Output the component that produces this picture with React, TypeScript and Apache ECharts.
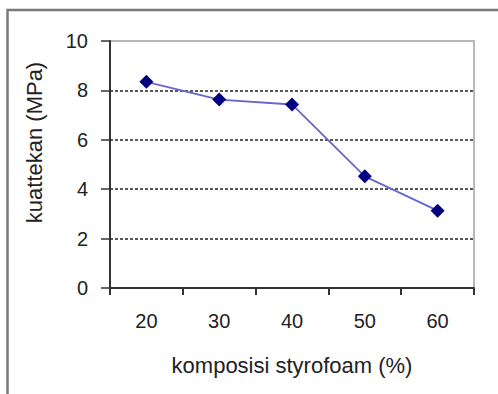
import React, { useEffect, useRef } from "react";
import * as echarts from "echarts";

const categories = ["20", "30", "40", "50", "60"];
const values = [8.35, 7.63, 7.43, 4.52, 3.13];
const yMin = 0;
const yMax = 10;
const yInterval = 2;
const gridValues = [2, 4, 6, 8];
const xTitle = "komposisi styrofoam (%)";
const yTitle = "kuattekan (MPa)";

export default function App() {
  const ref = useRef<HTMLDivElement>(null);
  useEffect(() => {
    if (!ref.current) return;
    const chart = echarts.init(ref.current, undefined, { renderer: "svg" });
    const font = "'Liberation Sans', Arial, sans-serif";
    chart.setOption({
      animation: false,
      backgroundColor: "#ffffff",
      textStyle: { fontFamily: font },
      graphic: [
        {
          type: "rect",
          shape: { x: 7.5, y: 10, width: 520, height: 420 },
          style: { fill: "none", stroke: "#7a7a7a", lineWidth: 2.5 },
          silent: true,
          z: -1,
        },
      ],
      grid: {
        left: 110,
        top: 41,
        right: 24,
        bottom: 106,
        show: true,
        borderColor: "#b8b8b8",
        borderWidth: 2,
        backgroundColor: "#ffffff",
      },
      xAxis: {
        type: "category",
        data: categories,
        boundaryGap: true,
        name: xTitle,
        nameLocation: "middle",
        nameGap: 66,
        nameTextStyle: { fontSize: 22, color: "#222", fontFamily: font },
        axisLine: { lineStyle: { color: "#333", width: 2 } },
        axisTick: { show: true, length: 7, alignWithLabel: false, lineStyle: { color: "#333", width: 2 } },
        axisLabel: { fontSize: 20, color: "#222", margin: 23, fontFamily: font },
        splitLine: { show: false },
      },
      yAxis: {
        type: "value",
        min: yMin,
        max: yMax,
        interval: yInterval,
        name: yTitle,
        nameLocation: "middle",
        nameGap: 65,
        nameRotate: 90,
        nameTextStyle: { fontSize: 22, color: "#222", fontFamily: font, padding: [0, 0, 0, 44] },
        axisLine: { show: true, lineStyle: { color: "#333", width: 2 } },
        axisTick: { show: true, length: 9, lineStyle: { color: "#333", width: 1.5 } },
        axisLabel: { fontSize: 20, color: "#222", margin: 22, fontFamily: font },
        splitLine: { show: false },
      },
      series: [
        {
          type: "line",
          data: values,
          symbol: "diamond",
          symbolSize: 14,
          itemStyle: { color: "#000080" },
          lineStyle: { color: "#6666cc", width: 1.8 },
          z: 3,
          markLine: {
            silent: true,
            symbol: ["none", "none"],
            label: { show: false },
            lineStyle: { color: "#222", type: [3, 2], width: 1.5 },
            data: gridValues.map((v) => ({ yAxis: v })),
            z: 1,
          },
        },
      ],
    });
    return () => chart.dispose();
  }, []);
  return (
    <div
      ref={ref}
      style={{ position: "fixed", left: 0, top: 0, width: 498, height: 394, background: "#fff" }}
    />
  );
}
